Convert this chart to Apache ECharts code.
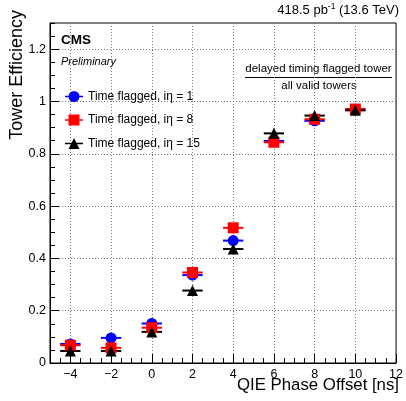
<!DOCTYPE html>
<html><head><meta charset="utf-8">
<script src="https://cdn.jsdelivr.net/npm/echarts@6/dist/echarts.min.js"></script>
<style>html,body{margin:0;padding:0;background:#fff}#c{width:406px;height:401px}</style>
</head><body><div id="c"></div>
<script>
// ---- data ----
const offsets = [-4, -2, 0, 2, 4, 6, 8, 10];
const effIeta1 = [0.073, 0.096, 0.151, 0.336, 0.468, 0.849, 0.926, 0.970];
const effIeta8 = [0.068, 0.058, 0.135, 0.346, 0.517, 0.844, 0.932, 0.971];
const effIeta15 = [0.046, 0.046, 0.119, 0.277, 0.436, 0.878, 0.946, 0.966];
const xHalfWidth = 0.5;
const xTickLabels = [-4, -2, 0, 2, 4, 6, 8, 10, 12];
const yTickLabels = [0, 0.2, 0.4, 0.6, 0.8, 1, 1.2];
const seriesNames = ['Time flagged, iη = 1', 'Time flagged, iη = 8', 'Time flagged, iη = 15'];

const FONT = '"Liberation Sans", Arial, Helvetica, sans-serif';
const chart = echarts.init(document.getElementById('c'));

const colors = ['#0000ff', '#ff0000', '#000000'];
const symbols = ['circle', 'rect', 'triangle'];
const icons = [
  'path://M0,4.8H18V6.2H0Z M14.5,5.5A5.5,5.5 0 1,1 3.5,5.5A5.5,5.5 0 1,1 14.5,5.5Z',
  'path://M0,4.8H18V6.2H0Z M3.5,0H14.5V11H3.5Z',
  'path://M0,4.8H18V6.2H0Z M9,0L14.5,11H3.5Z'
];
const allVals = [effIeta1, effIeta8, effIeta15];

const series = [];
allVals.forEach((vals, k) => {
  const pts = offsets.map((x, i) => [x, vals[i]]);
  series.push({
    type: 'custom', name: 'err' + k, xAxisIndex: 0, yAxisIndex: 0, silent: true,
    data: pts,
    renderItem: (p, api) => {
      const x = api.value(0), y = api.value(1);
      const a = api.coord([x - xHalfWidth, y]), b = api.coord([x + xHalfWidth, y]);
      return { type: 'line', shape: { x1: a[0], y1: a[1], x2: b[0], y2: b[1] },
        style: { stroke: colors[k], lineWidth: 2 } };
    }
  });
  series.push({
    type: 'scatter', name: seriesNames[k], xAxisIndex: 0, yAxisIndex: 0, silent: true,
    data: pts, symbol: symbols[k], symbolSize: 11,
    itemStyle: { color: colors[k], opacity: 1 }
  });
});

const fmt = v => String(v).replace('-', '\u2212');
const splitStyle = { color: '#777', width: 1, type: [1, 2] };

chart.setOption({
  animation: false,
  grid: { left: 50, right: 6, top: 23, bottom: 38, show: true, borderColor: '#000', borderWidth: 1, backgroundColor: 'transparent' },
  xAxis: [
    { type: 'value', min: -5, max: 12, position: 'bottom',
      axisLine: { show: true, onZero: false, lineStyle: { color: '#000', width: 1 } },
      axisTick: { show: true, inside: true, length: 9, customValues: xTickLabels, lineStyle: { color: '#000' } },
      axisLabel: { show: true, customValues: xTickLabels, formatter: fmt, margin: 5, color: '#000', fontFamily: FONT, fontSize: 12.5 },
      splitLine: { show: true, customValues: xTickLabels, lineStyle: splitStyle } },
    { type: 'value', min: -5, max: 12, interval: 0.5, position: 'bottom',
      axisLine: { show: false, onZero: false }, axisLabel: { show: false }, splitLine: { show: false },
      axisTick: { show: true, inside: true, length: 5, lineStyle: { color: '#000' } } }
  ],
  yAxis: [
    { type: 'value', min: 0, max: 1.3, position: 'left',
      axisLine: { show: true, onZero: false, lineStyle: { color: '#000', width: 1 } },
      axisTick: { show: true, inside: true, length: 9, customValues: yTickLabels, lineStyle: { color: '#000' } },
      axisLabel: { show: true, customValues: yTickLabels, margin: 4, color: '#000', fontFamily: FONT, fontSize: 12.5 },
      splitLine: { show: true, customValues: yTickLabels, lineStyle: splitStyle } },
    { type: 'value', min: 0, max: 1.3, interval: 0.05, position: 'left',
      axisLine: { show: false, onZero: false }, axisLabel: { show: false }, splitLine: { show: false },
      axisTick: { show: true, inside: true, length: 5, lineStyle: { color: '#000' } } }
  ],
  legend: {
    orient: 'vertical', left: 65, top: 90.5, padding: 0, itemWidth: 18, itemHeight: 11, itemGap: 11.5,
    selectedMode: false,
    data: seriesNames.map((n, k) => ({ name: n, icon: icons[k] })),
    textStyle: { color: '#000', fontFamily: FONT, fontSize: 12 }
  },
  graphic: [
    { type: 'text', x: 399, y: 10, style: { text: '{a|418.5 pb}{s|-1}{a| (13.6 TeV)}', align: 'right', verticalAlign: 'middle',
      rich: { a: { fontFamily: FONT, fontSize: 13, fill: '#000' }, s: { fontFamily: FONT, fontSize: 8.5, fill: '#000', verticalAlign: 'top', padding: [0,0,6,0] } } } },
    { type: 'text', x: 61, y: 40.5, style: { text: 'CMS', fontFamily: FONT, fontSize: 13.5, fontWeight: 'bold', fill: '#000', verticalAlign: 'middle' } },
    { type: 'text', x: 61, y: 62, style: { text: 'Preliminary', fontFamily: FONT, fontSize: 11, fontStyle: 'italic', fill: '#000', verticalAlign: 'middle' } },
    { type: 'text', x: 318.5, y: 69, style: { text: 'delayed timing flagged tower', fontFamily: FONT, fontSize: 11.5, fill: '#000', align: 'center', verticalAlign: 'middle' } },
    { type: 'line', shape: { x1: 245, y1: 77.5, x2: 392, y2: 77.5 }, style: { stroke: '#000', lineWidth: 1 } },
    { type: 'text', x: 319, y: 86, style: { text: 'all valid towers', fontFamily: FONT, fontSize: 11.5, fill: '#000', align: 'center', verticalAlign: 'middle' } },
    { type: 'text', x: 399, y: 385, style: { text: 'QIE Phase Offset [ns]', fontFamily: FONT, fontSize: 16.8, fill: '#000', align: 'right', verticalAlign: 'middle' } },
    { type: 'text', x: 17.5, y: 10, rotation: Math.PI / 2, style: { text: 'Tower Efficiency', fontFamily: FONT, fontSize: 18, fill: '#000', align: 'right', verticalAlign: 'middle' } }
  ],
  series: series
});
</script>
</body></html>
